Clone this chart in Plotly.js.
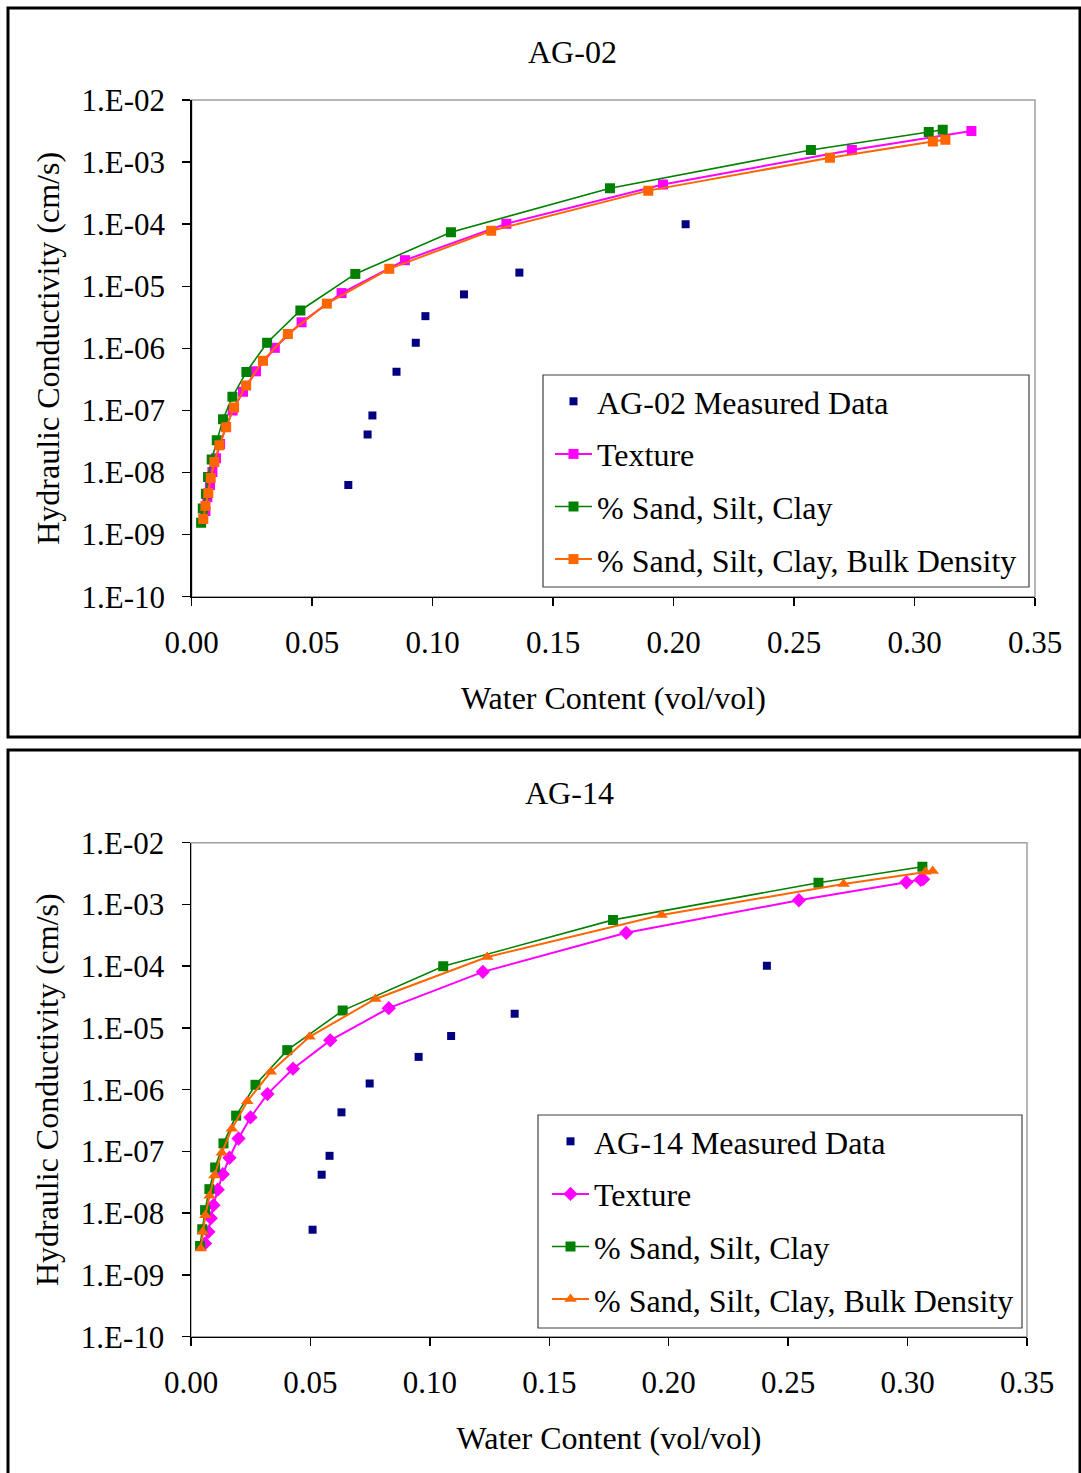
<!DOCTYPE html>
<html>
<head>
<meta charset="utf-8">
<script src="https://cdn.plot.ly/plotly-3.0.1.min.js"></script>
<style>html,body{margin:0;padding:0;background:#fff;}#chart{width:1081px;height:1473px;}</style>
</head>
<body>
<div id="chart"></div>
<script>
// ---------- DATA ----------
// Panel AG-02
const ag02MeasTheta = [0.065, 0.073, 0.075, 0.085, 0.093, 0.097, 0.113, 0.136, 0.205];
const ag02MeasK     = [6.3e-9, 4.1e-8, 8.3e-8, 4.2e-7, 1.23e-6, 3.3e-6, 7.4e-6, 1.66e-5, 1.0e-4];

const ag02TexTheta = [0.0057, 0.0065, 0.0076, 0.0086, 0.0101, 0.0118, 0.0142, 0.0170, 0.0213, 0.0267, 0.0345, 0.0456, 0.0622, 0.0885, 0.1306, 0.1956, 0.2740, 0.3236];
const ag02TexK     = [2.4e-9, 4.0e-9, 6.3e-9, 1.02e-8, 1.70e-8, 2.88e-8, 5.4e-8, 1.0e-7, 2.0e-7, 4.27e-7, 1.02e-6, 2.63e-6, 7.76e-6, 2.63e-5, 1.02e-4, 4.37e-4, 1.57e-3, 3.16e-3];

const ag02SscTheta = [0.0039, 0.0046, 0.0059, 0.0068, 0.0083, 0.0104, 0.0130, 0.0169, 0.0227, 0.0313, 0.0451, 0.0679, 0.1076, 0.1736, 0.2570, 0.3059, 0.3117];
const ag02SscK     = [1.55e-9, 2.63e-9, 4.57e-9, 8.5e-9, 1.62e-8, 3.31e-8, 7.24e-8, 1.66e-7, 4.17e-7, 1.23e-6, 4.07e-6, 1.58e-5, 7.41e-5, 3.80e-4, 1.57e-3, 3.05e-3, 3.31e-3];

const ag02BdTheta = [0.0048, 0.0057, 0.0069, 0.0079, 0.0094, 0.0115, 0.0143, 0.0176, 0.0226, 0.0296, 0.0399, 0.0561, 0.0820, 0.1243, 0.1895, 0.2649, 0.3076, 0.3128];
const ag02BdK     = [1.78e-9, 2.88e-9, 4.68e-9, 8.13e-9, 1.48e-8, 2.75e-8, 5.37e-8, 1.12e-7, 2.51e-7, 6.31e-7, 1.70e-6, 5.25e-6, 1.91e-5, 7.85e-5, 3.47e-4, 1.17e-3, 2.14e-3, 2.29e-3];

// Panel AG-14
const ag14MeasTheta = [0.0509, 0.0547, 0.0580, 0.0630, 0.0748, 0.0953, 0.1089, 0.1355, 0.2411];
const ag14MeasK     = [5.4e-9, 4.2e-8, 8.5e-8, 4.3e-7, 1.26e-6, 3.4e-6, 7.4e-6, 1.70e-5, 1.02e-4];

const ag14TexTheta = [0.0059, 0.0073, 0.0083, 0.0094, 0.0112, 0.0133, 0.0161, 0.0199, 0.0249, 0.0320, 0.0427, 0.0583, 0.0828, 0.1222, 0.1822, 0.2545, 0.2995, 0.3055, 0.3065];
const ag14TexK     = [3.24e-9, 5.0e-9, 8.3e-9, 1.35e-8, 2.4e-8, 4.27e-8, 7.9e-8, 1.62e-7, 3.55e-7, 8.5e-7, 2.19e-6, 6.3e-6, 2.09e-5, 8.1e-5, 3.47e-4, 1.17e-3, 2.29e-3, 2.51e-3, 2.57e-3];

const ag14SscTheta = [0.0038, 0.0047, 0.0059, 0.0077, 0.0101, 0.0136, 0.0189, 0.0270, 0.0403, 0.0635, 0.1056, 0.1767, 0.2627, 0.3062];
const ag14SscK     = [2.95e-9, 5.5e-9, 1.12e-8, 2.45e-8, 5.5e-8, 1.35e-7, 3.8e-7, 1.20e-6, 4.37e-6, 1.91e-5, 1.0e-4, 5.62e-4, 2.24e-3, 4.07e-3];

const ag14BdTheta = [0.0041, 0.0049, 0.0060, 0.0078, 0.0098, 0.0129, 0.0171, 0.0236, 0.0334, 0.0496, 0.0772, 0.1240, 0.1970, 0.2732, 0.3075, 0.3105];
const ag14BdK     = [2.69e-9, 5.0e-9, 9.3e-9, 1.91e-8, 4.07e-8, 9.5e-8, 2.34e-7, 6.5e-7, 1.95e-6, 7.2e-6, 2.95e-5, 1.41e-4, 6.76e-4, 2.14e-3, 3.39e-3, 3.47e-3];

// Ticks
const xTickVals = [0, 0.05, 0.10, 0.15, 0.20, 0.25, 0.30, 0.35];
const xTickText = ['0.00', '0.05', '0.10', '0.15', '0.20', '0.25', '0.30', '0.35'];
const yTickVals = [1e-10, 1e-9, 1e-8, 1e-7, 1e-6, 1e-5, 1e-4, 1e-3, 1e-2];
const yTickText = ['1.E-10', '1.E-09', '1.E-08', '1.E-07', '1.E-06', '1.E-05', '1.E-04', '1.E-03', '1.E-02'];

const panelTitles = ['AG-02', 'AG-14'];
const seriesNames = [
  ['AG-02 Measured Data', 'Texture', '% Sand, Silt, Clay', '% Sand, Silt, Clay, Bulk Density'],
  ['AG-14 Measured Data', 'Texture', '% Sand, Silt, Clay', '% Sand, Silt, Clay, Bulk Density']
];
const xTitle = 'Water Content (vol/vol)';
const yTitle = 'Hydraulic Conductivity (cm/s)';

// ---------- LAYOUT HELPERS ----------
const W = 1081, H = 1473;
const fx = p => p / W;
const fy = p => 1 - p / H;
const FONT = 'Liberation Serif, Times New Roman, serif';
const NAVY = '#000080', MAG = '#FF00FF', GRN = '#008000', ORG = '#FF6600';

function traces(meas, tex, ssc, bd, names, xa, ya, leg, texSym, bdSym) {
  return [
    {x: meas[0], y: meas[1], name: names[0], mode: 'markers', type: 'scatter', xaxis: xa, yaxis: ya, legend: leg, legendgroup: leg + 'a',
     marker: {symbol: 'square', size: 8, color: NAVY}},
    {x: tex[0], y: tex[1], name: names[1], mode: 'lines+markers', type: 'scatter', xaxis: xa, yaxis: ya, legend: leg, legendgroup: leg + 'b',
     line: {color: MAG, width: 2}, marker: {symbol: texSym, size: texSym === 'diamond' ? 11 : 10, color: MAG}},
    {x: ssc[0], y: ssc[1], name: names[2], mode: 'lines+markers', type: 'scatter', xaxis: xa, yaxis: ya, legend: leg, legendgroup: leg + 'c',
     line: {color: GRN, width: 1.6}, marker: {symbol: 'square', size: 10, color: GRN}},
    {x: bd[0], y: bd[1], name: names[3], mode: 'lines+markers', type: 'scatter', xaxis: xa, yaxis: ya, legend: leg, legendgroup: leg + 'd',
     line: {color: ORG, width: 2}, marker: {symbol: bdSym, size: bdSym === 'triangle-up' ? 11 : 10, color: ORG}}
  ];
}

const data = [].concat(
  traces([ag02MeasTheta, ag02MeasK], [ag02TexTheta, ag02TexK], [ag02SscTheta, ag02SscK], [ag02BdTheta, ag02BdK],
         seriesNames[0], 'x', 'y', 'legend', 'square', 'square'),
  traces([ag14MeasTheta, ag14MeasK], [ag14TexTheta, ag14TexK], [ag14SscTheta, ag14SscK], [ag14BdTheta, ag14BdK],
         seriesNames[1], 'x2', 'y2', 'legend2', 'diamond', 'triangle-up')
);

function xaxisDef(x0, x1, anchor) {
  return {domain: [fx(x0), fx(x1)], range: [0, 0.35], anchor: anchor,
    tickvals: xTickVals, ticktext: xTickText, ticks: 'outside', ticklen: 8, tickwidth: 1.5, tickcolor: '#000',
    showline: true, linecolor: '#000', linewidth: 1.5, showgrid: false, zeroline: false,
    tickfont: {family: FONT, size: 31, color: '#000'}, ticklabelstandoff: 10,
    title: {text: xTitle, font: {family: FONT, size: 32, color: '#000'}, standoff: 27}, fixedrange: true};
}
function yaxisDef(y0, y1, anchor) {
  return {domain: [fy(y1), fy(y0)], type: 'log', range: [-10, -2], anchor: anchor,
    tickvals: yTickVals, ticktext: yTickText, ticks: 'outside', ticklen: 8, tickwidth: 1.5, tickcolor: '#000',
    showline: true, linecolor: '#000', linewidth: 1.5, showgrid: false, zeroline: false,
    tickfont: {family: FONT, size: 31, color: '#000'}, ticklabelstandoff: 11,
    title: {text: yTitle, font: {family: FONT, size: 32, color: '#000'}, standoff: 12}, fixedrange: true};
}

function rect(x0, y0, x1, y1, color, width, layer) {
  return {type: 'rect', xref: 'paper', yref: 'paper', x0: fx(x0), x1: fx(x1), y0: fy(y1), y1: fy(y0),
          line: {color: color, width: width}, fillcolor: 'rgba(0,0,0,0)', layer: layer || 'above'};
}

function legendDef(px, py) {
  return {x: fx(px), y: fy(py), xanchor: 'left', yanchor: 'top', bgcolor: 'rgba(0,0,0,0)', borderwidth: 0,
          font: {family: FONT, size: 32, color: '#000'}, itemwidth: 37, traceorder: 'grouped', tracegroupgap: 8,
          itemclick: false, itemdoubleclick: false};
}

const layout = {
  width: W, height: H, margin: {l: 0, r: 0, t: 0, b: 0},
  paper_bgcolor: '#fff', plot_bgcolor: '#fff', showlegend: true,
  font: {family: FONT, color: '#000'},
  xaxis: xaxisDef(191.7, 1035, 'y'),
  yaxis: yaxisDef(100, 596.7, 'x'),
  xaxis2: xaxisDef(191, 1027, 'y2'),
  yaxis2: yaxisDef(842.7, 1336.7, 'x2'),
  legend: legendDef(550, 374),
  legend2: legendDef(547, 1114),
  shapes: [
    rect(191.7, 100, 1035, 596.7, '#A0A0A0', 1.5, 'below'),
    rect(191, 842.7, 1027, 1336.7, '#A0A0A0', 1.5, 'below'),
    rect(543, 375, 1029, 587, '#404040', 1.2),
    rect(538, 1115, 1022, 1328, '#404040', 1.2),
    rect(8, 8, 1080, 737, '#000', 3),
    rect(8, 750, 1080, 1490, '#000', 3)
  ],
  annotations: [
    {text: panelTitles[0], xref: 'paper', yref: 'paper', x: fx(572), y: fy(52), xanchor: 'center', yanchor: 'middle',
     showarrow: false, font: {family: FONT, size: 32, color: '#000'}},
    {text: panelTitles[1], xref: 'paper', yref: 'paper', x: fx(569), y: fy(793), xanchor: 'center', yanchor: 'middle',
     showarrow: false, font: {family: FONT, size: 32, color: '#000'}}
  ]
};

Plotly.newPlot('chart', data, layout, {displayModeBar: false, staticPlot: true});
</script>
</body>
</html>
